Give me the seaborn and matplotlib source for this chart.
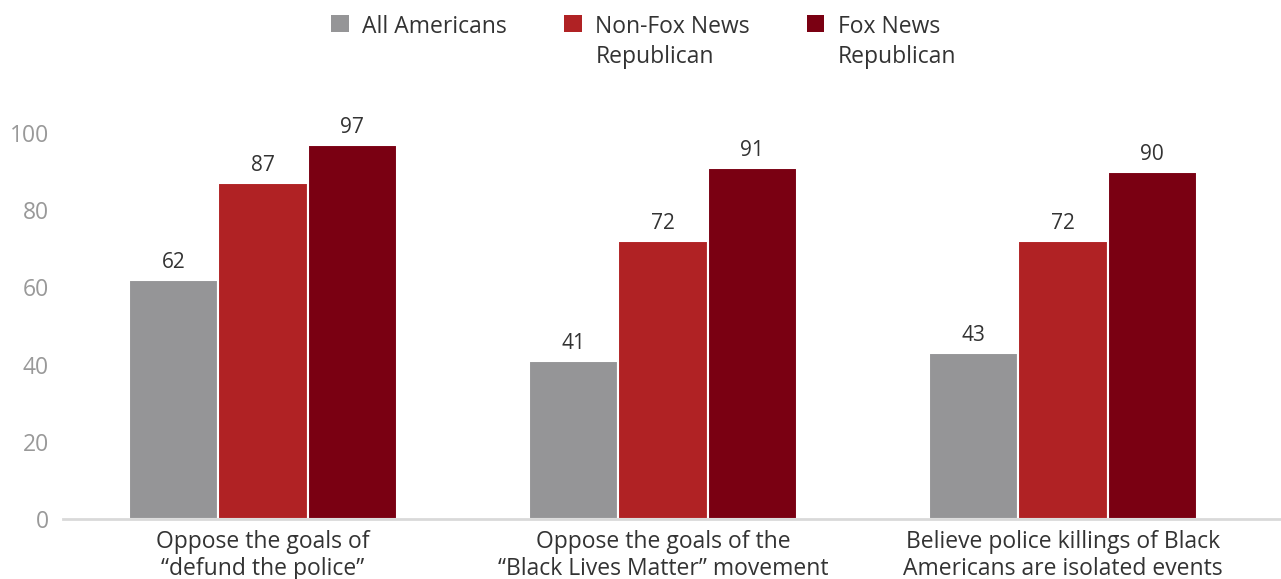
import matplotlib
matplotlib.use("Agg")
import matplotlib.pyplot as plt
import seaborn as sns
import pandas as pd

categories = ["Oppose the goals of\n\u201cdefund the police\u201d",
              "Oppose the goals of the\n\u201cBlack Lives Matter\u201d movement",
              "Believe police killings of Black\nAmericans are isolated events"]
groups = ["All Americans", "Non-Fox News\nRepublican", "Fox News\nRepublican"]
all_americans = [62, 41, 43]
non_fox_rep = [87, 72, 72]
fox_rep = [97, 91, 90]
colors = ["#959597", "#B02224", "#7A0012"]

df = pd.DataFrame({
    "category": categories * 3,
    "group": [groups[0]] * 3 + [groups[1]] * 3 + [groups[2]] * 3,
    "value": all_americans + non_fox_rep + fox_rep,
})

sns.set_style("white")
plt.rcParams["font.family"] = ["Open Sans", "DejaVu Sans"]

fig = plt.figure(figsize=(12.81, 5.79), dpi=100)
ax = fig.add_axes([63 / 1281, 60 / 579, 1218 / 1281, 386 / 579])

sns.barplot(data=df, x="category", y="value", hue="group", palette=colors,
            saturation=1, width=0.67, edgecolor="white", linewidth=1.5,
            ax=ax, legend=True)

for cont in ax.containers:
    ax.bar_label(cont, labels=[f"{v:.0f}" for v in cont.datavalues],
                 padding=5, fontsize=15, color="#333333")

ax.set_xlim(-0.5, 2.545)
ax.set_ylim(0, 100)
ax.set_yticks(range(0, 101, 20))
ax.tick_params(axis="y", colors="#999999", labelsize=16.5, length=0, pad=10)
ax.tick_params(axis="x", colors="#333333", labelsize=16.5, length=0, pad=8)
for lbl in ax.get_xticklabels():
    lbl.set_linespacing(1.15)
ax.set_xlabel("")
ax.set_ylabel("")
for s in ["top", "right", "left"]:
    ax.spines[s].set_visible(False)
ax.spines["bottom"].set_color("#d9d9d9")
ax.spines["bottom"].set_linewidth(2)

handles, labels = ax.get_legend_handles_labels()
leg = ax.legend(handles, labels, loc="upper center",
                bbox_to_anchor=(0.5 - 28 / 1218, 1 + 127 / 386),
                bbox_transform=ax.transAxes, ncol=3, frameon=False, fontsize=16.5,
                handlelength=0.75, handleheight=0.75, handletextpad=0.6,
                columnspacing=2.5, labelcolor="#333333", borderaxespad=0)
for t in leg.get_texts():
    t.set_linespacing(1.3)
for h in leg.legend_handles:
    h.set_edgecolor("none")
# put the square next to the first line of each label, columns top aligned
leg._legend_handle_box.align = "top"
for col in leg._legend_handle_box.get_children():
    col.align = "left"
    for item in col.get_children():
        item.align = "top"

plt.savefig("out.png", dpi=100)
